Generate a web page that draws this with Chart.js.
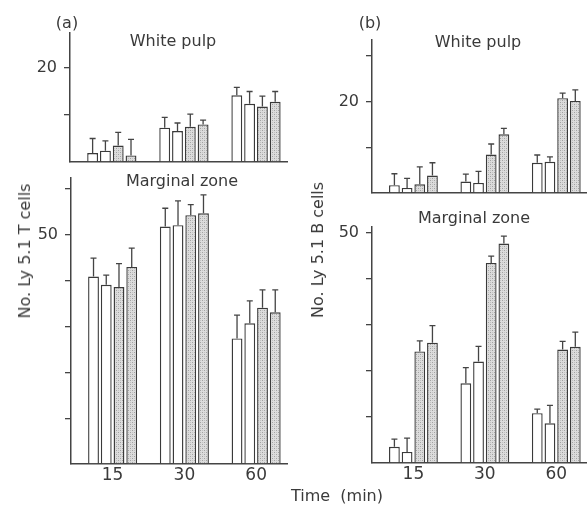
<!DOCTYPE html>
<html>
<head>
<meta charset="utf-8">
<script src="https://cdn.jsdelivr.net/npm/chart.js@4/dist/chart.umd.min.js"></script>
<style>
  html, body { margin: 0; padding: 0; width: 587px; height: 505px; overflow: hidden; background: #fff; }
  canvas { position: absolute; }
  .lbl { position: absolute; font-family: "DejaVu Sans", sans-serif; font-size: 16px; line-height: 16px; color: #3a3a3a; white-space: pre; }
  .c { transform: translateX(-50%); }
  .rot { transform: translate(-50%, -50%) rotate(-90deg); }
</style>
</head>
<body>
<canvas id="a1" width="300" height="170" style="left:0;top:0"></canvas>
<canvas id="a2" width="300" height="335" style="left:0;top:170px"></canvas>
<canvas id="b1" width="297" height="200" style="left:290px;top:0"></canvas>
<canvas id="b2" width="297" height="305" style="left:290px;top:200px"></canvas>

<div class="lbl c" style="left:67px;top:15px">(a)</div>
<div class="lbl c" style="left:370px;top:15px">(b)</div>
<div class="lbl c" style="left:173px;top:33px">White pulp</div>
<div class="lbl c" style="left:478px;top:34px">White pulp</div>
<div class="lbl c" style="left:182px;top:173px">Marginal zone</div>
<div class="lbl c" style="left:474px;top:210px">Marginal zone</div>
<div class="lbl c" style="left:337px;top:488px">Time  (min)</div>
<div class="lbl rot" style="left:25px;top:251px">No. Ly 5.1 T cells</div>
<div class="lbl rot" style="left:318px;top:250px">No. Ly 5.1 B cells</div>

<script>
// ---- data ----
const timeLabels = ['15', '30', '60'];
const groupPos = [1, 2, 3];

// (a) Ly 5.1 T cells, white pulp
const aWpWhite1 = [1.9, 7.3, 14.2];  const aWpWhite1Err = [3.1, 2.2, 1.7];
const aWpWhite2 = [2.4, 6.6, 12.4];  const aWpWhite2Err = [2.1, 1.7, 2.6];
const aWpStip1  = [3.5, 7.5, 11.8];  const aWpStip1Err  = [2.8, 2.7, 2.2];
const aWpStip2  = [1.4, 8.0, 12.8];  const aWpStip2Err  = [3.4, 0.9, 2.2];

// (a) Ly 5.1 T cells, marginal zone
const aMzWhite1 = [40.9, 51.8, 27.4]; const aMzWhite1Err = [4.0, 4.0, 5.1];
const aMzWhite2 = [39.1, 52.1, 30.7]; const aMzWhite2Err = [2.1, 5.3, 4.9];
const aMzStip1  = [38.6, 54.3, 34.1]; const aMzStip1Err  = [5.1, 2.3, 3.9];
const aMzStip2  = [43.0, 54.7, 33.1]; const aMzStip2Err  = [4.1, 4.0, 4.9];

// (b) Ly 5.1 B cells, white pulp
const bWpWhite1 = [1.7, 2.5, 6.6];   const bWpWhite1Err = [2.5, 1.6, 1.7];
const bWpWhite2 = [1.1, 2.2, 6.8];   const bWpWhite2Err = [2.1, 2.5, 1.1];
const bWpStip1  = [1.9, 8.4, 20.7];  const bWpStip1Err  = [3.8, 2.3, 1.1];
const bWpStip2  = [3.8, 12.8, 20.1]; const bWpStip2Err  = [2.8, 1.3, 2.4];

// (b) Ly 5.1 B cells, marginal zone
const bMzWhite1 = [3.5, 17.3, 10.8]; const bMzWhite1Err = [1.7, 3.4, 0.9];
const bMzWhite2 = [2.4, 22.0, 8.6];  const bMzWhite2Err = [3.0, 3.3, 3.9];
const bMzStip1  = [24.2, 43.4, 24.6]; const bMzStip1Err = [2.3, 1.5, 1.8];
const bMzStip2  = [26.1, 47.6, 25.2]; const bMzStip2Err = [3.7, 1.6, 3.2];

// ---- style ----
Chart.defaults.font.family = "'DejaVu Sans', sans-serif";
Chart.defaults.color = '#3a3a3a';
const LINE = '#444';

function makeStipple() {
  const c = document.createElement('canvas');
  c.width = 4; c.height = 4;
  const g = c.getContext('2d');
  g.fillStyle = '#dcdcdc'; g.fillRect(0, 0, 4, 4);
  g.fillStyle = '#a2a2a2';
  g.fillRect(0, 0, 1, 1); g.fillRect(2, 2, 1, 1);
  g.fillStyle = '#c2c2c2';
  g.fillRect(2, 0, 1, 1); g.fillRect(0, 2, 1, 1);
  return g.createPattern(c, 'repeat');
}
const stipple = makeStipple();

const errorBars = {
  id: 'errorBars',
  afterDatasetsDraw(chart) {
    const ctx = chart.ctx;
    const ys = chart.scales.y;
    chart.data.datasets.forEach((ds, di) => {
      const meta = chart.getDatasetMeta(di);
      meta.data.forEach((bar, i) => {
        const v = ds.data[i].y;
        const top = ys.getPixelForValue(v + ds.errors[i]);
        ctx.save();
        ctx.strokeStyle = LINE;
        ctx.lineWidth = 1.3;
        ctx.beginPath();
        ctx.moveTo(bar.x, bar.y);
        ctx.lineTo(bar.x, top);
        ctx.moveTo(bar.x - 3, top);
        ctx.lineTo(bar.x + 3, top);
        ctx.stroke();
        ctx.restore();
      });
    });
  }
};

function series(vals, errs, fill) {
  return {
    data: groupPos.map((x, i) => ({ x: x, y: vals[i] })),
    errors: errs,
    backgroundColor: fill,
    borderColor: '#3a3a3a',
    borderWidth: 1.4,
    categoryPercentage: 0.71,
    barPercentage: 0.85
  };
}

function panel(id, sets, o) {
  new Chart(document.getElementById(id), {
    type: 'bar',
    data: { datasets: sets },
    plugins: [errorBars],
    options: {
      responsive: false,
      animation: false,
      layout: { padding: { top: o.padTop, right: o.padRight, left: 0, bottom: 0 } },
      plugins: { legend: { display: false }, tooltip: { enabled: false } },
      scales: {
        x: {
          type: 'linear',
          offset: false,
          min: 0.42,
          max: 3.43,
          afterFit: s => { s.height = o.xHeight; s.paddingLeft = 0; s.paddingRight = 0; },
          grid: { display: false, drawTicks: false, tickLength: 0 },
          border: { display: true, color: LINE, width: 1.5 },
          ticks: {
            display: o.showX,
            stepSize: 1,
            includeBounds: false,
            autoSkip: false,
            maxRotation: 0,
            padding: 1,
            font: { size: 17 },
            color: '#3a3a3a',
            callback: v => { const k = groupPos.indexOf(v); return k >= 0 ? timeLabels[k] : ''; }
          }
        },
        y: {
          min: 0,
          max: o.yMax,
          afterFit: s => { s.width = o.yWidth; s.paddingTop = 0; s.paddingBottom = 0; },
          grid: {
            drawOnChartArea: false,
            drawTicks: true,
            tickLength: 6,
            lineWidth: 1.3,
            color: c => (c.tick && c.tick.value === 0) ? 'rgba(0,0,0,0)' : LINE
          },
          border: { display: true, color: LINE, width: 1.5 },
          ticks: {
            stepSize: 10,
            includeBounds: false,
            padding: 7,
            font: { size: 16 },
            color: '#3a3a3a',
            callback: v => v === o.yLabel ? String(v) : ''
          }
        }
      }
    }
  });
}

panel('a1', [
  series(aWpWhite1, aWpWhite1Err, '#fff'),
  series(aWpWhite2, aWpWhite2Err, '#fff'),
  series(aWpStip1, aWpStip1Err, stipple),
  series(aWpStip2, aWpStip2Err, stipple)
], { padTop: 33, padRight: 13, yWidth: 70, xHeight: 8, yMax: 27.45, yLabel: 20, showX: false });

panel('a2', [
  series(aMzWhite1, aMzWhite1Err, '#fff'),
  series(aMzWhite2, aMzWhite2Err, '#fff'),
  series(aMzStip1, aMzStip1Err, stipple),
  series(aMzStip2, aMzStip2Err, stipple)
], { padTop: 8, padRight: 13, yWidth: 71, xHeight: 41, yMax: 62.4, yLabel: 50, showX: true });

panel('b1', [
  series(bWpWhite1, bWpWhite1Err, '#fff'),
  series(bWpWhite2, bWpWhite2Err, '#fff'),
  series(bWpStip1, bWpStip1Err, stipple),
  series(bWpStip2, bWpStip2Err, stipple)
], { padTop: 40, padRight: 0, yWidth: 82, xHeight: 7, yMax: 33.4, yLabel: 20, showX: false });

panel('b2', [
  series(bMzWhite1, bMzWhite1Err, '#fff'),
  series(bMzWhite2, bMzWhite2Err, '#fff'),
  series(bMzStip1, bMzStip1Err, stipple),
  series(bMzStip2, bMzStip2Err, stipple)
], { padTop: 27, padRight: 0, yWidth: 82, xHeight: 42, yMax: 51.2, yLabel: 50, showX: true });
</script>
</body>
</html>
